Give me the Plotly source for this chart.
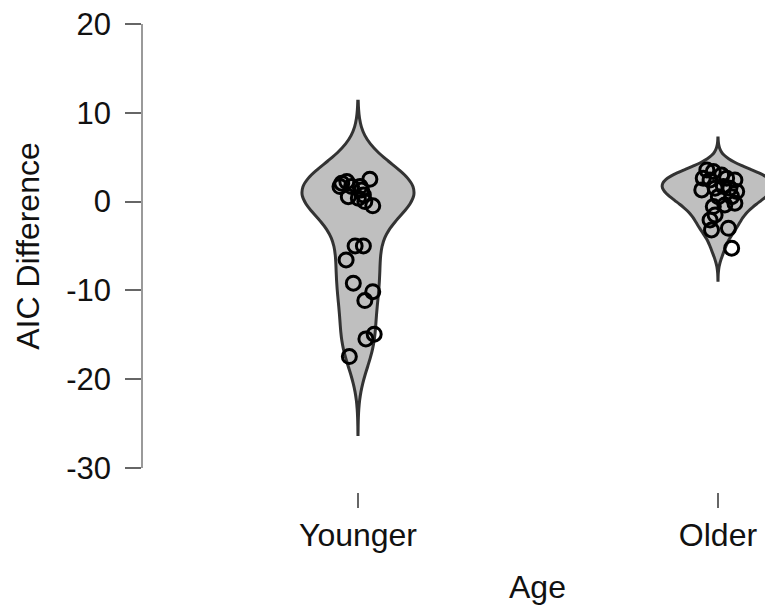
import plotly.graph_objects as go

# ---- data -------------------------------------------------------------
categories = ["Younger", "Older"]
positions = [0, 1]

younger_aic = [2.07, 2.25, 2.52, 1.69, 1.69, 1.69, 1.32, 0.56, 0.38, 0.75, 0.0, -0.48,
               -4.99, -4.99, -6.57, -9.19, -10.14, -11.15, -14.93, -15.46, -17.45]
younger_jitter = [-0.045, -0.031, 0.033, -0.050, -0.018, 0.006, 0.010, -0.027, 0.001, 0.015, 0.019, 0.041,
                  -0.008, 0.015, -0.033, -0.013, 0.041, 0.019, 0.045, 0.022, -0.024]

older_aic = [3.57, 3.38, 3.0, 2.64, 2.44, 2.64, 2.44, 1.32, 1.51, 1.69, 1.51, 1.13,
             0.56, 0.56, -0.56, -0.37, -0.18, -1.5, -2.06, -3.19, -3.0, -5.25]
older_jitter = [-0.031, -0.013, 0.010, -0.041, -0.022, 0.024, 0.047, -0.045, -0.008, 0.015, 0.033, 0.052,
                0.001, 0.038, -0.013, 0.019, 0.047, -0.008, -0.022, -0.018, 0.029, 0.038]

y_ticks = [-30, -20, -10, 0, 10, 20]
y_tick_labels = ["-30", "-20", "-10", "0", "10", "20"]

# KDE bandwidths for each group
bandwidths = [2.93, 1.2]

groups = [(younger_aic, younger_jitter), (older_aic, older_jitter)]

FONT = "Liberation Sans, Arial, sans-serif"

fig = go.Figure()

for name, pos, (vals, jit), bw in zip(categories, positions, groups, bandwidths):
    fig.add_trace(go.Violin(
        x0=pos, y=vals, name=name, orientation="v",
        width=0.31, scalemode="width",
        bandwidth=bw, spanmode="manual",
        span=[min(vals) - 3 * bw, max(vals) + 3 * bw],
        points=False, box_visible=False, meanline_visible=False,
        fillcolor="#bfbfbf", opacity=1,
        line=dict(color="#333333", width=3),
        hoverinfo="skip", showlegend=False,
    ))

for name, pos, (vals, jit), bw in zip(categories, positions, groups, bandwidths):
    fig.add_trace(go.Scatter(
        x=[pos + j for j in jit], y=vals, mode="markers",
        marker=dict(symbol="circle-open", size=14, color="black",
                    line=dict(width=3, color="black")),
        hoverinfo="skip", showlegend=False,
    ))

fig.update_layout(
    width=765, height=609,
    margin=dict(l=143, r=0, t=24, b=117),
    paper_bgcolor="white", plot_bgcolor="white",
    violinmode="overlay",
    font=dict(family=FONT, color="black"),
    xaxis=dict(
        range=[-0.5972, 1.1306], anchor="free", position=0,
        tickvals=positions, ticktext=categories,
        ticks="outside", ticklen=15, tickwidth=1.5, tickcolor="#666666",
        showline=False, showgrid=False, zeroline=False,
        tickfont=dict(size=32, family=FONT, color="#111111"),
    ),
    yaxis=dict(
        range=[-30, 20], domain=[24 / 468, 1],
        tickvals=y_ticks, ticktext=y_tick_labels,
        ticks="outside", ticklen=16, tickwidth=1.5, tickcolor="#666666",
        ticklabelstandoff=8,
        showline=True, linecolor="#9a9a9a", linewidth=1.5,
        showgrid=False, zeroline=False,
        tickfont=dict(size=31, family=FONT, color="#111111"),
        title=dict(text="AIC Difference", font=dict(size=32, family=FONT, color="#111111"),
                   standoff=17),
    ),
    annotations=[dict(
        text="Age", xref="x", yref="paper", x=0.5, y=-0.16,
        xanchor="center", yanchor="top", showarrow=False,
        font=dict(size=32, family=FONT, color="#111111"),
    )],
)

fig.write_html("out.html")
